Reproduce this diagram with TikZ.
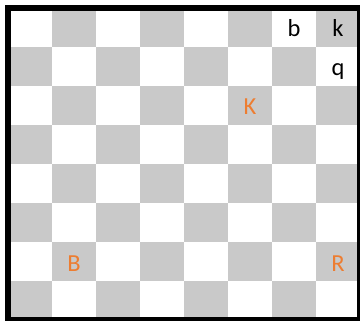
\documentclass[tikz,border=0pt]{standalone}
\usepackage{fontspec}
\setmainfont{Carlito}
\usepackage{xcolor}
\usepackage{tikz}
\definecolor{INK}{HTML}{000000}
\definecolor{DARK}{HTML}{C9C9C9}
\definecolor{HOME}{HTML}{ED7D31}

\begin{document}
\begin{tikzpicture}[
    x=44pt, y=-39pt,
    dark/.style={fill=DARK, draw=none},
    frame/.style={draw=INK, line width=6pt},
    piece/.style={font=\fontsize{24.5}{28}\selectfont, anchor=base, inner sep=0pt, yshift=-9.5pt},
    blackpiece/.style={piece, text=INK},
    whitepiece/.style={piece, text=HOME},
  ]

  \useasboundingbox (-8/44, -8/39) rectangle (8, 8);

  % --- Squares ---
  \foreach \r [evaluate=\r as \s using {int(mod(\r,2))}] in {0,...,7} {
    \foreach \c in {0,2,4,6} {
      \fill[dark] (\c+1-\s, \r) rectangle ++(1,1);
    }
  }

  % --- Black pieces ---
  \node[blackpiece] (g8) at (6.5, 0.5) {b};
  \node[blackpiece] (h8) at (7.5, 0.5) {k};
  \node[blackpiece] (h7) at (7.5, 1.5) {q};

  % --- White pieces ---
  \node[whitepiece] (f6) at (5.5, 2.5) {K};
  \node[whitepiece] (b2) at (1.5, 6.5) {B};
  \node[whitepiece] (h2) at (7.5, 6.5) {R};

  % board edge
  \draw[frame] (0,0) rectangle (8,8);

\end{tikzpicture}
\end{document}
